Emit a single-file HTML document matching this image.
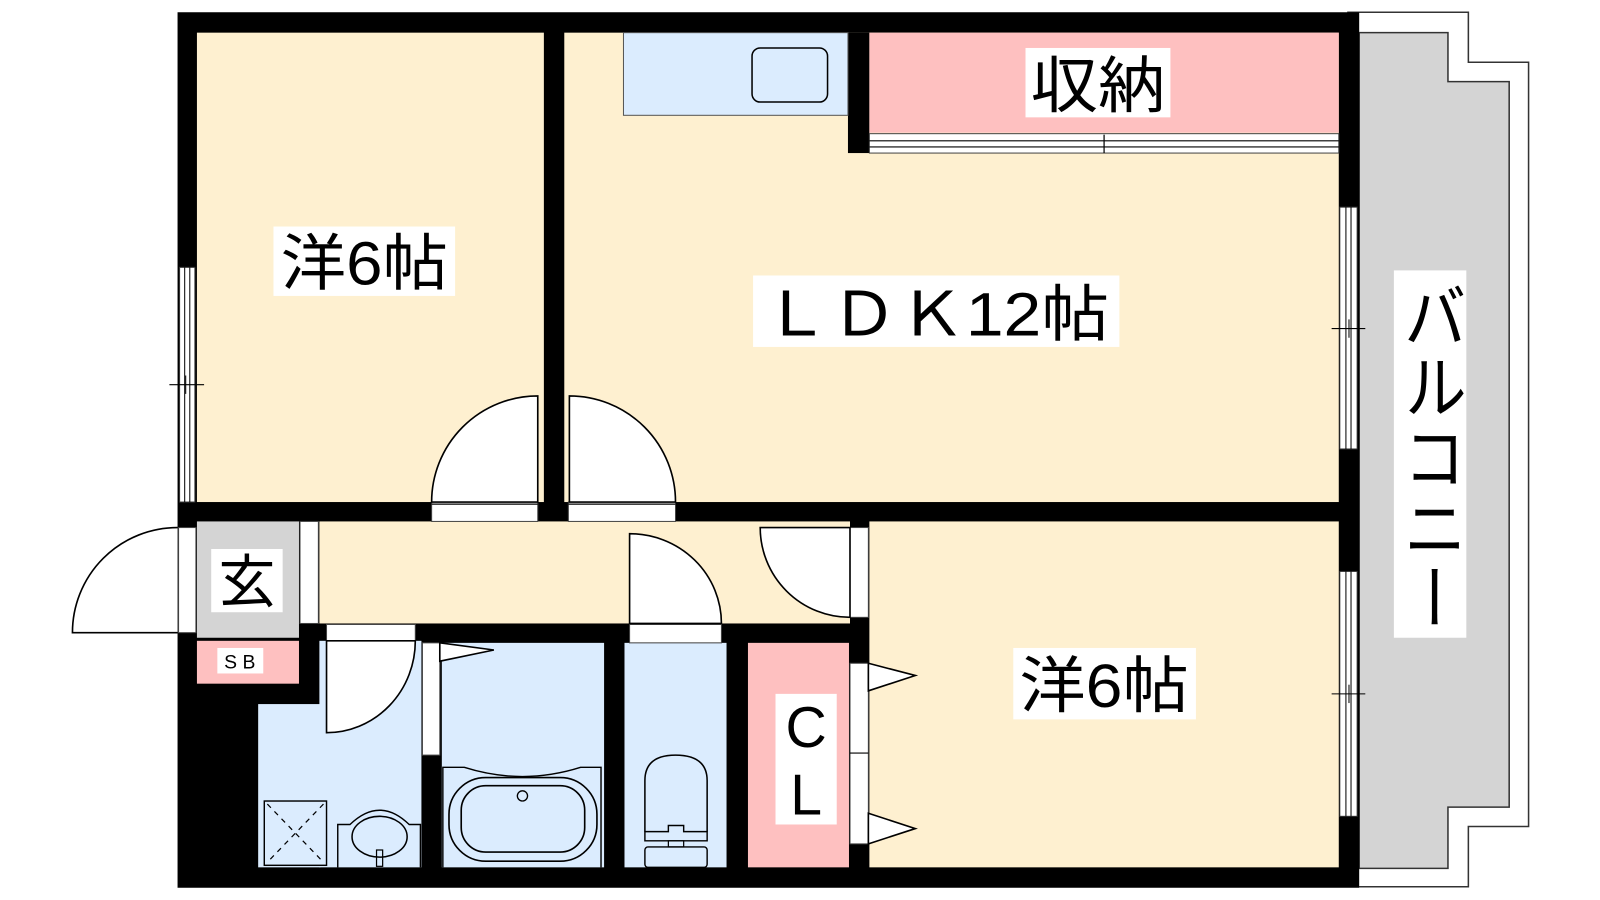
<!DOCTYPE html>
<html><head><meta charset="utf-8"><style>
html,body{margin:0;padding:0;background:#fff;width:1600px;height:900px;overflow:hidden}
svg{display:block}
text{font-family:"Liberation Sans","Noto Sans CJK JP",sans-serif;fill:#000}
</style></head><body>
<svg width="1600" height="900" viewBox="0 0 1568 882" preserveAspectRatio="none" xmlns="http://www.w3.org/2000/svg">
<!-- balcony -->
<path d="M1321 12 H1439 V61 H1498 V810 H1439 V869 H1321 Z" fill="#fff" stroke="#333" stroke-width="1.5"/>
<path d="M1332 32 H1419 V80 H1479 V791 H1419 V851 H1332 Z" fill="#d4d4d4" stroke="#333" stroke-width="1.5"/>
<!-- walls -->
<rect x="174" y="12" width="1158" height="858" fill="#000"/>
<!-- rooms -->
<g fill="#fef0d0">
<rect x="193" y="32" width="340" height="460"/>
<rect x="553" y="32" width="759" height="460"/>
<rect x="313" y="511" width="520" height="100"/>
<rect x="852" y="511" width="460" height="339"/>
</g>
<rect x="831" y="32" width="21" height="118" fill="#000"/>
<rect x="611" y="32" width="220" height="81" fill="#dbecfe" stroke="#555" stroke-width="1"/>
<rect x="737" y="47" width="74" height="53" rx="8" fill="none" stroke="#000" stroke-width="1.5"/>
<rect x="852" y="32" width="460" height="98" fill="#fec0c0"/>
<!-- sliding door -->
<rect x="852" y="131" width="460" height="19" fill="#fff" stroke="#444" stroke-width="1"/>
<line x1="852" y1="138" x2="1312" y2="138" stroke="#000" stroke-width="1.2"/>
<line x1="852" y1="144" x2="1312" y2="144" stroke="#000" stroke-width="1.2"/>
<line x1="1082" y1="132" x2="1082" y2="150" stroke="#000" stroke-width="1.2"/>
<!-- genkan, sb -->
<rect x="193" y="511" width="100" height="114" fill="#d4d4d4"/>
<rect x="294" y="511" width="18" height="100" fill="#fff" stroke="#444" stroke-width="1"/>
<rect x="193" y="628" width="100" height="42" fill="#fec0c0"/>
<!-- wet rooms -->
<g fill="#dbecfe">
<rect x="313" y="628" width="100" height="222"/>
<rect x="253" y="690" width="61" height="160"/>
<rect x="433" y="630" width="159" height="220"/>
<rect x="612" y="630" width="100" height="220"/>
</g>
<rect x="733" y="630" width="99" height="220" fill="#fec0c0"/>
<!-- windows -->
<g fill="#fff" stroke="#333" stroke-width="1">
<rect x="176" y="262" width="15" height="230"/>
<rect x="1313" y="203" width="17" height="237"/>
<rect x="1313" y="560" width="17" height="240"/>
</g>
<g stroke="#000" stroke-width="1">
<line x1="181" y1="262" x2="181" y2="492"/><line x1="186" y1="262" x2="186" y2="492"/>
<line x1="166" y1="377" x2="200" y2="377"/><line x1="182" y1="368" x2="182" y2="386"/>
<line x1="1319" y1="203" x2="1319" y2="440"/><line x1="1324" y1="203" x2="1324" y2="440"/>
<line x1="1305" y1="322" x2="1338" y2="322"/><line x1="1322" y1="313" x2="1322" y2="331"/>
<line x1="1319" y1="560" x2="1319" y2="800"/><line x1="1324" y1="560" x2="1324" y2="800"/>
<line x1="1305" y1="680" x2="1338" y2="680"/><line x1="1322" y1="671" x2="1322" y2="689"/>
</g>
<!-- door openings -->
<g fill="#fff" stroke="#444" stroke-width="1">
<rect x="423" y="492" width="104" height="19"/>
<rect x="557" y="492" width="105" height="19"/>
<rect x="175" y="517" width="17" height="103"/>
<rect x="320" y="612" width="87" height="16"/>
<rect x="414" y="630" width="17" height="110"/>
<rect x="617" y="612" width="90" height="18"/>
<rect x="833" y="517" width="18" height="88"/>
<rect x="833" y="650" width="18" height="177"/>
</g>
<g stroke="#000" stroke-width="1.2">
<line x1="423" y1="494" x2="527" y2="494"/><line x1="557" y1="494" x2="662" y2="494"/>
<line x1="833" y1="738" x2="851" y2="738"/>
</g>
<!-- door swings -->
<g fill="#fff" stroke="#000" stroke-width="1.6">
<path d="M527 492 V388 A104 104 0 0 0 423 492 Z"/>
<path d="M558 492 V388 A104 104 0 0 1 662 492 Z"/>
<path d="M174 620 H71 A103 103 0 0 1 174 517"/>
<path d="M320 628 V718 A87 90 0 0 0 407 628 Z"/>
<path d="M617 611 V523 A90 88 0 0 1 707 611 Z"/>
<path d="M833 517 H745 A88 88 0 0 0 833 605 Z"/>
<path d="M431 630 L484 637 L431 648 Z"/>
<path d="M851 650 L897 662 L851 677 Z"/>
<path d="M851 797 L897 812 L851 827 Z"/>
</g>
<!-- bath -->
<path d="M434 850 V752 H455 Q512 770 569 752 H589 V850" fill="none" stroke="#000" stroke-width="1.4"/>
<rect x="440" y="762" width="145" height="82" rx="36" fill="none" stroke="#000" stroke-width="1.6"/>
<rect x="452" y="770" width="121" height="65" rx="24" fill="none" stroke="#000" stroke-width="1.6"/>
<circle cx="512" cy="780" r="5" fill="none" stroke="#000" stroke-width="1.3"/>
<!-- shower pan -->
<rect x="259" y="785" width="61" height="63" fill="none" stroke="#000" stroke-width="1.4"/>
<g stroke="#000" stroke-width="1.2" stroke-dasharray="5,5"><line x1="262" y1="788" x2="317" y2="845"/><line x1="317" y1="788" x2="262" y2="845"/></g>
<!-- sink -->
<path d="M331 850 V808 H343 Q372 780 401 808 H412 V850" fill="none" stroke="#000" stroke-width="1.4"/>
<ellipse cx="372" cy="820" rx="27" ry="20" fill="none" stroke="#000" stroke-width="1.5"/>
<rect x="369" y="833" width="6" height="16" fill="none" stroke="#000" stroke-width="1.2"/>
<!-- toilet -->
<path d="M632 815 V765 Q632 740 662 740 Q693 740 693 765 V815" fill="none" stroke="#000" stroke-width="1.5"/>
<path d="M632 815 H655 V809 H670 V815 H693 V824 H632 Z" fill="none" stroke="#000" stroke-width="1.4"/>
<rect x="655" y="824" width="15" height="6" fill="none" stroke="#000" stroke-width="1.2"/>
<rect x="632" y="830" width="61" height="20" rx="3" fill="none" stroke="#000" stroke-width="1.4"/>
<!-- labels -->
<g fill="#fff">
<rect x="268" y="222" width="178" height="68"/>
<rect x="738" y="270" width="359" height="70"/>
<rect x="1005" y="47" width="142" height="68"/>
<rect x="1366" y="265" width="71" height="360"/>
<rect x="993" y="635" width="179" height="70"/>
<rect x="207" y="538" width="70" height="62"/>
<rect x="213" y="635" width="45" height="25"/>
<rect x="760" y="680" width="60" height="128"/>
</g>
<text x="357" y="279" font-size="60" text-anchor="middle" textLength="164" lengthAdjust="spacingAndGlyphs">洋6帖</text>
<text x="917" y="329" font-size="60" text-anchor="middle" textLength="340" lengthAdjust="spacingAndGlyphs">ＬＤＫ12帖</text>
<text x="1076" y="105" font-size="60" text-anchor="middle" textLength="132" lengthAdjust="spacingAndGlyphs">収納</text>
<text x="1082" y="693" font-size="60" text-anchor="middle" textLength="166" lengthAdjust="spacingAndGlyphs">洋6帖</text>
<text x="242" y="590" font-size="56" text-anchor="middle">玄</text>
<text x="235" y="655" font-size="19" text-anchor="middle">S B</text>
<text x="790" y="732" font-size="56" text-anchor="middle">C</text>
<text x="790" y="798" font-size="56" text-anchor="middle">L</text>
<text x="1401" y="275" font-size="62" style="writing-mode:vertical-rl" textLength="345" lengthAdjust="spacingAndGlyphs">バルコニー</text>
</svg>
</body></html>
